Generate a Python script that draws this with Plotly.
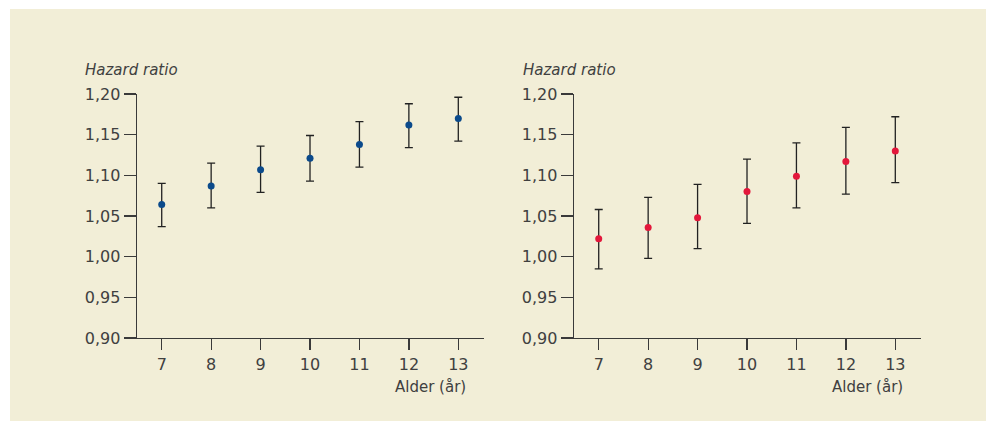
import plotly.graph_objects as go

ages = [7, 8, 9, 10, 11, 12, 13]

# Left panel (blue)
hr_left = [1.064, 1.087, 1.107, 1.121, 1.138, 1.162, 1.170]
upper_left = [1.090, 1.115, 1.136, 1.149, 1.166, 1.188, 1.196]
lower_left = [1.037, 1.060, 1.079, 1.093, 1.110, 1.134, 1.142]

# Right panel (red)
hr_right = [1.022, 1.036, 1.048, 1.080, 1.099, 1.117, 1.130]
upper_right = [1.058, 1.073, 1.089, 1.120, 1.140, 1.159, 1.172]
lower_right = [0.985, 0.998, 1.010, 1.041, 1.060, 1.077, 1.091]

y_ticks = [0.90, 0.95, 1.00, 1.05, 1.10, 1.15, 1.20]
y_title = "Hazard ratio"
x_title = "Alder (år)"

W, H = 986, 421
BG = "#f2eed7"
TXT = "#404040"
AX = "#3a3a3a"
FONT = "DejaVu Sans, Verdana, sans-serif"
FS = 15
FS_TICK = 16


def px_x(p):
    return p / W


def px_y(p):
    return 1 - p / H


fig = go.Figure()


def add_panel(hr, up, lo, color, xa, ya):
    fig.add_trace(go.Scatter(
        x=ages, y=hr, mode="markers",
        marker=dict(color=color, size=7),
        error_y=dict(type="data", symmetric=False,
                     array=[u - h for u, h in zip(up, hr)],
                     arrayminus=[h - l for h, l in zip(hr, lo)],
                     color="#222222", thickness=1.3, width=4),
        xaxis=xa, yaxis=ya, showlegend=False, hoverinfo="skip"))


add_panel(hr_left, upper_left, lower_left, "#0b4a8b", "x", "y")
add_panel(hr_right, upper_right, lower_right, "#e3173b", "x2", "y2")

ydom = [px_y(338), px_y(94)]
xcommon = dict(range=[6.5, 13.52], tickvals=ages, ticks="outside", ticklen=11,
               tickwidth=1.3, tickcolor=AX, showline=True, linecolor=AX,
               linewidth=1.4, showgrid=False, zeroline=False, automargin=False,
               tickfont=dict(size=FS_TICK, color=TXT, family=FONT), fixedrange=True)
ycommon = dict(range=[0.9, 1.2], tickvals=y_ticks, tickformat=".2f",
               ticks="outside", ticklen=12, tickwidth=1.3, tickcolor=AX,
               showline=True, linecolor=AX, linewidth=1.4, showgrid=False,
               zeroline=False, domain=ydom, automargin=False,
               tickfont=dict(size=FS_TICK, color=TXT, family=FONT), fixedrange=True)

fig.update_layout(
    width=W, height=H,
    margin=dict(l=0, r=0, t=0, b=0, pad=0),
    paper_bgcolor="white", plot_bgcolor="rgba(0,0,0,0)",
    separators=",.",
    font=dict(family=FONT, color=TXT, size=FS),
    xaxis=dict(domain=[px_x(137), px_x(484)], anchor="y", **xcommon),
    yaxis=dict(anchor="x", **ycommon),
    xaxis2=dict(domain=[px_x(574), px_x(921)], anchor="y2", **xcommon),
    yaxis2=dict(anchor="x2", **ycommon),
    shapes=[dict(type="rect", xref="paper", yref="paper",
                 x0=px_x(10), x1=1, y0=0, y1=px_y(9),
                 fillcolor=BG, line=dict(width=0), layer="below")],
    annotations=[
        dict(text=y_title, x=px_x(83), y=px_y(70), xref="paper", yref="paper",
             xanchor="left", yanchor="middle", showarrow=False,
             font=dict(size=FS, color=TXT, family=FONT, style="italic")),
        dict(text=y_title, x=px_x(521), y=px_y(70), xref="paper", yref="paper",
             xanchor="left", yanchor="middle", showarrow=False,
             font=dict(size=FS, color=TXT, family=FONT, style="italic")),
        dict(text=x_title, x=px_x(468), y=px_y(387), xref="paper", yref="paper",
             xanchor="right", yanchor="middle", showarrow=False,
             font=dict(size=FS, color=TXT, family=FONT)),
        dict(text=x_title, x=px_x(905), y=px_y(387), xref="paper", yref="paper",
             xanchor="right", yanchor="middle", showarrow=False,
             font=dict(size=FS, color=TXT, family=FONT)),
    ],
)

fig.write_html("out.html",
               config={"displayModeBar": False, "staticPlot": True},
               post_script="document.body.style.margin='0';"
                           "document.documentElement.style.overflow='hidden';")
